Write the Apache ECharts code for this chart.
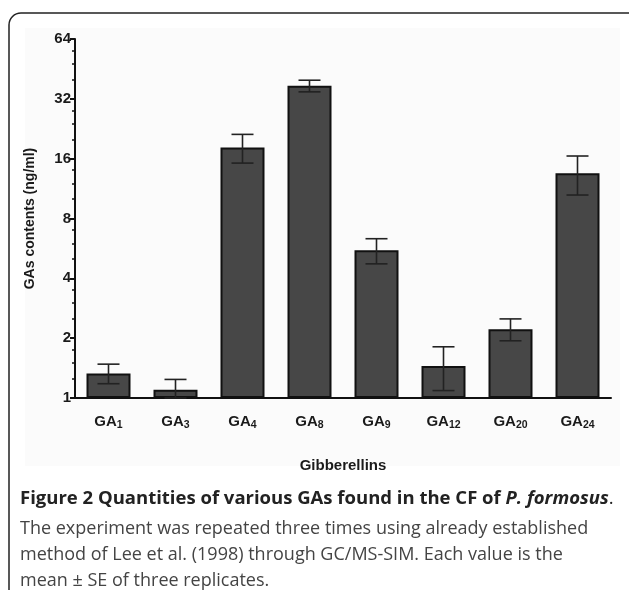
<!DOCTYPE html>
<html>
<head>
<meta charset="UTF-8" />
<title>GAs contents</title>
<script src="https://cdn.jsdelivr.net/npm/echarts@6/dist/echarts.min.js"></script>
<style>
  html, body { margin: 0; padding: 0; background: #fff; }
  #main { width: 629px; height: 590px; }
</style>
</head>
<body>
<div id="main"></div>
<script>
var chart = echarts.init(document.getElementById('main'));

// gibberellin names: base + subscript number
var gaNames = ['1', '3', '4', '8', '9', '12', '20', '24'];
// mean contents (ng/ml) and SE
var gaMeans = [1.33, 1.10, 18.2, 37.2, 5.53, 1.45, 2.22, 13.5];
var gaSE = [0.15, 0.14, 3.0, 2.5, 0.8, 0.36, 0.28, 3.0];

var categories = gaNames.map(function (n) { return 'GA' + n; });
// error bars are cut at the bottom of the axis (1)
var errData = gaMeans.map(function (m, i) { return [i, Math.max(1, m - gaSE[i]), m + gaSE[i]]; });

var axisFont = { fontFamily: 'Liberation Sans', fontWeight: 'bold', color: '#1a1a1a' };

var option = {
  backgroundColor: '#fff',
  animation: false,
  graphic: [
    // card border and faint plot background
    { type: 'rect', z: -10, shape: { x: 9, y: 13, width: 640, height: 590, r: 12 },
      style: { fill: '#fff', stroke: '#222', lineWidth: 1.5 } },
    { type: 'rect', z: -9, shape: { x: 25, y: 28, width: 595, height: 438 },
      style: { fill: '#fbfbfb' } },
    { type: 'text', left: 20, top: 489, style: {
        text: '{b|Figure 2 Quantities of various GAs found in the CF of }{i|P. formosus}{n|.}',
        rich: {
          b: { fontFamily: 'Open Sans', fontWeight: 'bold', fontSize: 18.5, fill: '#222' },
          i: { fontFamily: 'Open Sans', fontWeight: 'bold', fontStyle: 'italic', fontSize: 18.5, fill: '#222' },
          n: { fontFamily: 'Open Sans', fontSize: 18.5, fill: '#222' }
        } } },
    { type: 'text', left: 20, top: 516, style: {
        text: 'The experiment was repeated three times using already established\nmethod of Lee et al. (1998) through GC/MS-SIM. Each value is the\nmean \u00b1 SE of three replicates.',
        fontFamily: 'Open Sans', fontSize: 18, lineHeight: 26, fill: '#444' } }
  ],
  grid: { left: 75, right: 18, top: 39, bottom: 192 },
  xAxis: {
    type: 'category',
    data: categories,
    axisLine: { lineStyle: { color: '#111', width: 2 } },
    axisTick: { alignWithLabel: true, length: 5, lineStyle: { color: '#111', width: 2 } },
    axisLabel: {
      interval: 0,
      margin: 14,
      formatter: function (v, i) { return '{a|GA}{s|' + gaNames[i] + '}'; },
      rich: {
        a: { fontFamily: 'Liberation Sans', fontWeight: 'bold', fontSize: 15, color: '#1a1a1a' },
        s: { fontFamily: 'Liberation Sans', fontWeight: 'bold', fontSize: 10.5, color: '#1a1a1a', padding: [8, 0, 0, 0] }
      }
    },
    name: 'Gibberellins',
    nameLocation: 'middle',
    nameGap: 60,
    nameTextStyle: Object.assign({ fontSize: 15 }, axisFont)
  },
  yAxis: {
    type: 'log',
    logBase: 2,
    min: 1,
    max: 64,
    interval: 1,
    splitLine: { show: false },
    axisLine: { show: true, lineStyle: { color: '#111', width: 2 } },
    axisTick: { show: true, length: 5, lineStyle: { color: '#111', width: 2 } },
    minorTick: { show: true, splitNumber: 4, length: 3, lineStyle: { color: '#111', width: 1.5 } },
    axisLabel: Object.assign({ fontSize: 15, margin: 4 }, axisFont),
    name: 'GAs contents (ng/ml)',
    nameLocation: 'middle',
    nameGap: 38,
    nameTextStyle: Object.assign({ fontSize: 14 }, axisFont)
  },
  series: [
    {
      type: 'bar',
      data: gaMeans,
      barWidth: 44,
      itemStyle: { color: '#474747', borderColor: '#111', borderWidth: 2 }
    },
    {
      type: 'custom',
      z: 10,
      data: errData,
      renderItem: function (params, api) {
        var x = api.value(0);
        var lo = api.coord([x, api.value(1)]);
        var hi = api.coord([x, api.value(2)]);
        var hw = 11;
        var st = { stroke: '#222', lineWidth: 1.6 };
        return {
          type: 'group',
          children: [
            { type: 'line', shape: { x1: lo[0], y1: lo[1], x2: hi[0], y2: hi[1] }, style: st },
            { type: 'line', shape: { x1: hi[0] - hw, y1: hi[1], x2: hi[0] + hw, y2: hi[1] }, style: st },
            { type: 'line', shape: { x1: lo[0] - hw, y1: lo[1], x2: lo[0] + hw, y2: lo[1] }, style: st }
          ]
        };
      }
    }
  ]
};

chart.setOption(option);
</script>
</body>
</html>
